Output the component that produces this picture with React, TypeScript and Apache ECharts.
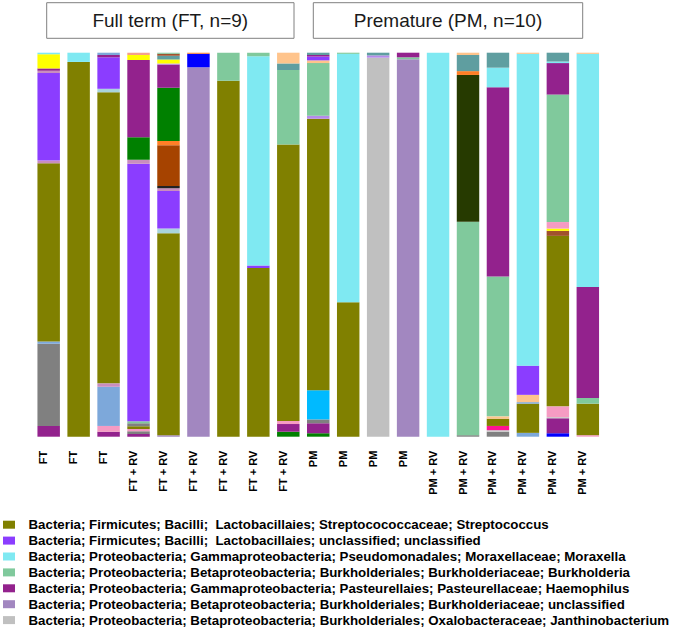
import React, { useEffect, useRef } from "react";
import * as echarts from "echarts";

// Sample labels on the x axis (left to right)
const sampleLabels = [
  "FT", "FT", "FT",
  "FT + RV", "FT + RV", "FT + RV", "FT + RV", "FT + RV", "FT + RV",
  "PM", "PM", "PM", "PM",
  "PM + RV", "PM + RV", "PM + RV", "PM + RV", "PM + RV", "PM + RV",
];

// Relative abundance (%) per sample, segments listed bottom -> top
type Seg = [string, number];
const FT1: Seg[] = [["haemo", 2.8], ["gray", 21.4], ["lightblue", 0.6], ["strep", 46.4], ["mauve", 0.7], ["firmU", 22.8], ["mauve", 0.6], ["haemo", 0.6], ["yellow", 3.7], ["morax", 0.4]];
const FT2: Seg[] = [["strep", 97.6], ["morax", 2.4]];
const FT3: Seg[] = [["haemo", 1.3], ["pink", 1.5], ["lightblue", 10.2], ["mauve", 0.9], ["strep", 75.8], ["paleblue", 0.9], ["firmU", 8.2], ["haemo", 0.6], ["lightblue", 0.6]];
const FTRV1: Seg[] = [["haemo", 0.7], ["gray", 0.7], ["pink", 0.6], ["strep", 0.7], ["gray", 0.8], ["burkh", 0.5], ["firmU", 67.1], ["mauve", 1.0], ["green", 5.9], ["haemo", 20.1], ["yellow", 1.3], ["salmon", 0.6]];
const FTRV2: Seg[] = [["burkU", 0.4], ["strep", 52.6], ["paleblue", 1.2], ["firmU", 9.8], ["mauve", 0.7], ["black", 0.6], ["brown", 10.6], ["orange", 1.1], ["green", 13.9], ["haemo", 6.0], ["lavender", 0.3], ["yellow", 1.0], ["teal", 1.0], ["redbrown", 0.5], ["burkh", 0.3]];
const FTRV3: Seg[] = [["burkU", 96.2], ["blue", 3.5], ["orange", 0.3]];
const FTRV4: Seg[] = [["strep", 92.7], ["burkh", 7.3]];
const FTRV5: Seg[] = [["strep", 43.9], ["firmU", 0.7], ["morax", 54.5], ["burkh", 0.9]];
const FTRV6: Seg[] = [["green", 1.3], ["haemo", 2.0], ["pink", 0.8], ["strep", 72.0], ["burkh", 19.4], ["teal", 1.7], ["peach", 2.8]];
const PM1: Seg[] = [["green", 0.9], ["haemo", 2.6], ["gray", 1.0], ["skyblue", 7.6], ["strep", 70.7], ["lavender", 0.8], ["burkh", 13.7], ["peach", 0.7], ["firmU", 1.0], ["haemo", 0.4], ["teal", 0.6]];
const PM2: Seg[] = [["strep", 35.0], ["morax", 64.7], ["burkh", 0.3]];
const PM3: Seg[] = [["janth", 98.7], ["lavender", 0.6], ["teal", 0.7]];
const PM4: Seg[] = [["burkU", 98.3], ["burkh", 0.5], ["haemo", 1.2]];
const PMRV1: Seg[] = [["morax", 100]];
const PMRV2: Seg[] = [["gray", 0.4], ["burkh", 55.6], ["darkolive", 38.2], ["orange", 1.0], ["teal", 4.2], ["peach", 0.6]];
const PMRV3: Seg[] = [["gray", 1.3], ["palegray", 0.4], ["hotpink", 1.1], ["strep", 1.9], ["peach", 0.6], ["burkh", 36.4], ["haemo", 49.3], ["morax", 5.1], ["teal", 3.9]];
const PMRV4: Seg[] = [["lightblue", 1.0], ["strep", 7.6], ["lightblue", 0.4], ["peach", 1.9], ["firmU", 7.6], ["morax", 81.2], ["peach", 0.3]];
const PMRV5: Seg[] = [["blue", 0.9], ["haemo", 3.9], ["palegray", 0.3], ["pink", 2.8], ["strep", 44.4], ["redbrown", 1.3], ["yellow", 0.6], ["pink", 1.7], ["burkh", 33.2], ["haemo", 8.2], ["morax", 0.4], ["teal", 2.3]];
const PMRV6: Seg[] = [["pink", 0.4], ["strep", 8.2], ["burkh", 1.5], ["haemo", 28.9], ["morax", 60.7], ["peach", 0.3]];

const samples: Seg[][] = [FT1, FT2, FT3, FTRV1, FTRV2, FTRV3, FTRV4, FTRV5, FTRV6, PM1, PM2, PM3, PM4, PMRV1, PMRV2, PMRV3, PMRV4, PMRV5, PMRV6];

// Legend taxa
const legendKeys = ["strep", "firmU", "morax", "burkh", "haemo", "burkU", "janth"];
const legendNames = [
  "Bacteria; Firmicutes; Bacilli;  Lactobacillaies; Streptocococcaceae; Streptococcus",
  "Bacteria; Firmicutes; Bacilli;  Lactobacillaies; unclassified; unclassified",
  "Bacteria; Proteobacteria; Gammaproteobacteria; Pseudomonadales; Moraxellaceae; Moraxella",
  "Bacteria; Proteobacteria; Betaproteobacteria; Burkholderiales; Burkholderiaceae; Burkholderia",
  "Bacteria; Proteobacteria; Gammaproteobacteria; Pasteurellaies; Pasteurellaceae; Haemophilus",
  "Bacteria; Proteobacteria; Betaproteobacteria; Burkholderiales; Burkholderiaceae; unclassified",
  "Bacteria; Proteobacteria; Betaproteobacteria; Burkholderiales; Oxalobacteraceae; Janthinobacterium",
];

const groupTitles = ["Full term (FT, n=9)", "Premature (PM, n=10)"];

// Styles
const COLORS: Record<string, string> = {
  strep: "#808000",
  firmU: "#8B3DFF",
  morax: "#7FE9F2",
  burkh: "#80C99C",
  haemo: "#93228D",
  burkU: "#A287C0",
  janth: "#C0C0C0",
  yellow: "#FFFF00",
  gray: "#808080",
  lightblue: "#7DA8DA",
  mauve: "#C98DBE",
  pink: "#F59BC3",
  green: "#008000",
  brown: "#A64300",
  orange: "#FF7F27",
  blue: "#0000FF",
  peach: "#FFC48C",
  teal: "#5F9EA0",
  skyblue: "#00BAFF",
  darkolive: "#263A00",
  hotpink: "#FF1493",
  black: "#222222",
  paleblue: "#A9D4DC",
  salmon: "#F4A08C",
  lavender: "#B58BEA",
  redbrown: "#A0522D",
  palegray: "#C8C8C8",
};

const FONT = "'Liberation Sans', Arial, Helvetica, sans-serif";

export default function App() {
  const ref = useRef<HTMLDivElement>(null);

  useEffect(() => {
    if (!ref.current) return;
    const chart = echarts.init(ref.current, null, { renderer: "svg" });

    const maxLayers = Math.max(...samples.map((s) => s.length));
    const series: any[] = [];
    for (let k = 0; k < maxLayers; k++) {
      series.push({
        type: "bar",
        name: "layer" + k,
        stack: "taxa",
        barWidth: "75%",
        silent: true,
        data: samples.map((s) =>
          s[k]
            ? { value: s[k][1], itemStyle: { color: COLORS[s[k][0]] } }
            : { value: 0, itemStyle: { color: "rgba(0,0,0,0)" } }
        ),
      });
    }
    legendKeys.forEach((key, i) => {
      series.push({
        type: "bar",
        name: legendNames[i],
        stack: "taxa",
        data: [],
        itemStyle: { color: COLORS[key] },
      });
    });

    chart.setOption({
      animation: false,
      grid: { left: 33.7, right: 73.2, top: 52.7, bottom: 194.3 },
      xAxis: {
        type: "category",
        data: sampleLabels,
        axisLine: { show: false },
        axisTick: { show: false },
        axisLabel: {
          interval: 0,
          rotate: 90,
          margin: 14,
          verticalAlign: "bottom",
          fontFamily: FONT,
          fontSize: 11,
          fontWeight: "bold",
          color: "#000",
        },
      },
      yAxis: {
        type: "value",
        min: 0,
        max: 100,
        show: false,
        splitLine: { show: false },
      },
      legend: {
        data: legendNames,
        orient: "vertical",
        left: 3,
        top: 517.7,
        padding: 0,
        icon: "rect",
        itemWidth: 12,
        itemHeight: 8,
        itemGap: 1.9,
        selectedMode: false,
        textStyle: {
          fontFamily: FONT,
          fontSize: 13.3,
          fontWeight: "bold",
          color: "#000",
          lineHeight: 14,
          padding: [0, 0, 0, 8.5],
        },
      },
      graphic: [
        {
          type: "rect",
          shape: { x: 46.7, y: 2.7, width: 247.3, height: 35.6 },
          style: { fill: "#fff", stroke: "#808080", lineWidth: 1 },
        },
        {
          type: "text",
          x: 170.3,
          y: 20.5,
          style: {
            text: groupTitles[0],
            fontFamily: FONT,
            fontSize: 19,
            fill: "#1a1a1a",
            align: "center",
            verticalAlign: "middle",
          },
        },
        {
          type: "rect",
          shape: { x: 313.3, y: 2.7, width: 269.4, height: 35.6 },
          style: { fill: "#fff", stroke: "#808080", lineWidth: 1 },
        },
        {
          type: "text",
          x: 448,
          y: 20.5,
          style: {
            text: groupTitles[1],
            fontFamily: FONT,
            fontSize: 19,
            fill: "#1a1a1a",
            align: "center",
            verticalAlign: "middle",
          },
        },
      ],
      series,
    });

    return () => chart.dispose();
  }, []);

  return (
    <div
      ref={ref}
      style={{ position: "fixed", left: 0, top: 0, width: 676, height: 631, background: "#fff" }}
    />
  );
}
